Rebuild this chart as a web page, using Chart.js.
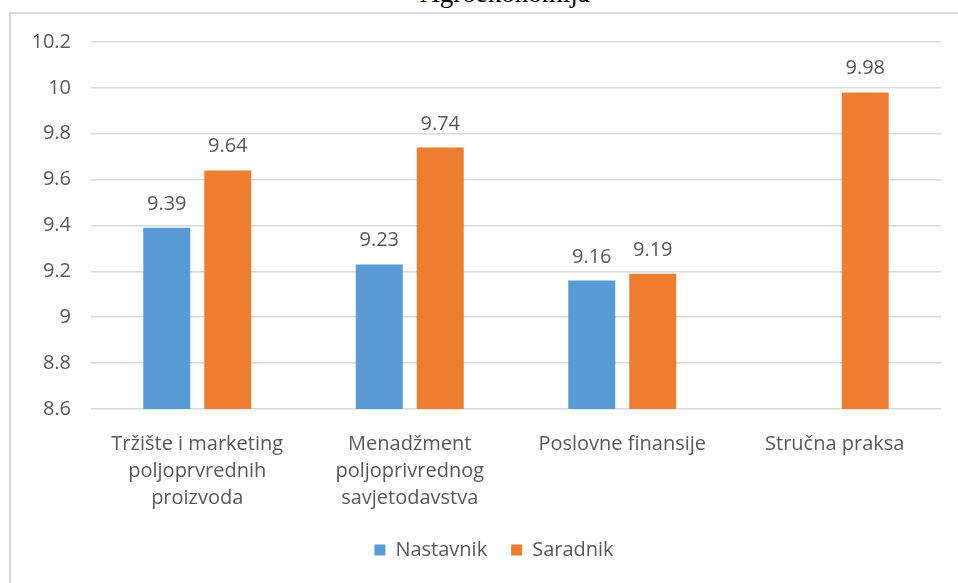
<!DOCTYPE html>
<html>
<head>
<meta charset="utf-8">
<script src="https://cdn.jsdelivr.net/npm/chart.js@4"></script>
<style>
  html, body { margin: 0; padding: 0; background: #fff; overflow: hidden; }
  #wrap { position: relative; width: 958px; height: 583px; }
  #frame { position: absolute; left: 9px; top: 12px; width: 960px; height: 600px;
           border-left: 2px solid #d9d9d9; border-top: 2px solid #d9d9d9; }
  #naslov { position: absolute; left: 355px; width: 300px; top: -20px; text-align: center;
            font: 27px/27px "Liberation Serif", serif; color: #000; }
  canvas { position: absolute; left: 0; top: 0; }
</style>
</head>
<body>
<div id="wrap">
  <div id="frame"></div>
  <div id="naslov">Agroekonomija</div>
  <canvas id="grafik" width="958" height="583"></canvas>
</div>
<script>
const kategorije = [
  ['Tržište i marketing', 'poljoprvrednih', 'proizvoda'],
  ['Menadžment', 'poljoprivrednog', 'savjetodavstva'],
  'Poslovne finansije',
  'Stručna praksa'
];
const nastavnik = [9.39, 9.23, 9.16, null];
const saradnik = [9.64, 9.74, 9.19, 9.98];
const yMin = 8.6, yMax = 10.2, yKorak = 0.2;

const FONT = '"Open Sans", sans-serif';
const SIVA = '#595959';

// vrijednosti iznad stubova
const oznake = {
  id: 'oznake',
  afterDatasetsDraw(chart) {
    const ctx = chart.ctx;
    ctx.save();
    ctx.font = '20px ' + FONT;
    ctx.fillStyle = SIVA;
    ctx.textAlign = 'center';
    ctx.textBaseline = 'alphabetic';
    chart.data.datasets.forEach((ds, i) => {
      chart.getDatasetMeta(i).data.forEach((bar, j) => {
        if (ds.data[j] == null) return;
        ctx.fillText(ds.data[j].toFixed(2), bar.x, bar.y - 18);
      });
    });
    ctx.restore();
  }
};

// legenda je malo desno od sredine platna
const pomakLegende = {
  id: 'pomakLegende',
  afterLayout(chart) {
    chart.legend.left += 23.5;
    chart.legend.right += 23.5;
  }
};

new Chart(document.getElementById('grafik'), {
  type: 'bar',
  data: {
    labels: kategorije,
    datasets: [
      { label: 'Nastavnik', data: nastavnik, backgroundColor: '#5B9BD5',
        categoryPercentage: 0.574, barPercentage: 0.77 },
      { label: 'Saradnik', data: saradnik, backgroundColor: '#ED7D31',
        categoryPercentage: 0.574, barPercentage: 0.77 }
    ]
  },
  options: {
    responsive: false,
    animation: false,
    layout: { padding: { top: 42, right: 17, bottom: 13, left: 0 } },
    scales: {
      x: {
        grid: { display: false },
        border: { display: false },
        ticks: { color: SIVA, font: { family: FONT, size: 20, lineHeight: 1.35 }, padding: 14, maxRotation: 0 },
        afterFit(s) { s.height = 107; }
      },
      y: {
        min: yMin, max: yMax,
        grid: { color: '#d9d9d9', lineWidth: 1.5, drawTicks: false },
        border: { display: false },
        ticks: {
          stepSize: yKorak, color: SIVA, padding: 20,
          font: { family: FONT, size: 20 },
          callback: v => String(Number(v.toFixed(1)))
        },
        afterFit(s) { s.width = 91; }
      }
    },
    plugins: {
      legend: {
        position: 'bottom',
        labels: { color: SIVA, font: { family: FONT, size: 20 }, boxWidth: 11, boxHeight: 11, padding: 24 }
      },
      tooltip: { enabled: false }
    }
  },
  plugins: [oznake, pomakLegende]
});
</script>
</body>
</html>
